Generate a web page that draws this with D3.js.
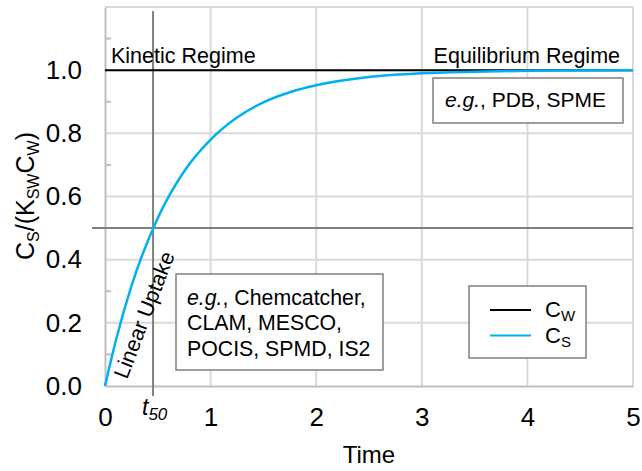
<!DOCTYPE html>
<html>
<head>
<meta charset="utf-8">
<script src="https://cdn.jsdelivr.net/npm/d3@7/dist/d3.min.js"></script>
<style>
  body { margin: 0; background: #fff; }
  text { font-family: "Liberation Sans", Arial, sans-serif; fill: #000; }
</style>
</head>
<body>
<script>
// values
var timePoints = [0, 0.1, 0.25, 0.5, 0.75, 1, 1.25, 1.5, 1.75, 2, 2.5, 3, 3.5, 4, 4.5, 5];
var csValues   = [0, 0.14, 0.316, 0.532, 0.68, 0.78, 0.85, 0.898, 0.93, 0.952, 0.978, 0.99, 0.995, 0.998, 0.999, 1.0];
var cwValue = 1.0;
var t50 = 0.455;
var halfLevel = 0.5;
var xTicks = [0, 1, 2, 3, 4, 5];
var yTicks = [0, 0.2, 0.4, 0.6, 0.8, 1.0];
var yMinorTicks = [0.1, 0.3, 0.5, 0.7, 0.9, 1.1];

var margin = {top: 7, right: 9, bottom: 85, left: 105};
var width = 642 - margin.left - margin.right,
    height = 471 - margin.top - margin.bottom;

var svg = d3.select("body").append("svg")
    .attr("width", 642)
    .attr("height", 471);
var g = svg.append("g")
    .attr("transform", "translate(" + margin.left + "," + margin.top + ")");

var x = d3.scaleLinear().domain([0, 5]).range([0, width]);
var y = d3.scaleLinear().domain([0, 1.2]).range([height, 0]);

var blue = "#00b0f0", gridColor = "#d9d9d9", axisColor = "#bfbfbf", darkGray = "#808080";

// grid
g.append("g").selectAll("line")
    .data(xTicks.slice(1))
    .enter().append("line")
    .attr("x1", x).attr("x2", x)
    .attr("y1", 0).attr("y2", height)
    .attr("stroke", gridColor).attr("stroke-width", 2);
g.append("g").selectAll("line")
    .data(yTicks.slice(1).concat([1.2]))
    .enter().append("line")
    .attr("x1", 0).attr("x2", width)
    .attr("y1", y).attr("y2", y)
    .attr("stroke", gridColor).attr("stroke-width", 2);

// axes
var yAxis = g.append("g")
    .call(d3.axisLeft(y).tickValues(yTicks).tickFormat(d3.format(".1f")).tickSize(0).tickPadding(23));
yAxis.select(".domain").attr("stroke", axisColor).attr("stroke-width", 2);
yAxis.selectAll("text").attr("font-size", 26);

var xAxis = g.append("g")
    .attr("transform", "translate(0," + height + ")")
    .call(d3.axisBottom(x).tickValues(xTicks).tickFormat(d3.format("d")).tickSize(0).tickPadding(22));
xAxis.select(".domain").attr("stroke", axisColor).attr("stroke-width", 2);
xAxis.selectAll("text").attr("font-size", 26);

// minor ticks inside left axis
g.append("g").selectAll("line")
    .data(yMinorTicks)
    .enter().append("line")
    .attr("x1", 0).attr("x2", 6)
    .attr("y1", y).attr("y2", y)
    .attr("stroke", axisColor).attr("stroke-width", 2);

// t50 and half level reference lines
g.append("line")
    .attr("x1", x(t50)).attr("x2", x(t50))
    .attr("y1", 4).attr("y2", height + 10)
    .attr("stroke", darkGray).attr("stroke-width", 2);
g.append("line")
    .attr("x1", -13).attr("x2", width)
    .attr("y1", y(halfLevel)).attr("y2", y(halfLevel))
    .attr("stroke", darkGray).attr("stroke-width", 2);

// C_W
g.append("line")
    .attr("x1", 0).attr("x2", width)
    .attr("y1", y(cwValue)).attr("y2", y(cwValue))
    .attr("stroke", "#000").attr("stroke-width", 2);

// C_S curve
var line = d3.line()
    .x(function(d) { return x(d[0]); })
    .y(function(d) { return y(d[1]); })
    .curve(d3.curveMonotoneX);
g.append("path")
    .datum(d3.zip(timePoints, csValues))
    .attr("fill", "none")
    .attr("stroke", blue)
    .attr("stroke-width", 2.5)
    .attr("d", line);

// regime labels
svg.append("text").attr("x", 111).attr("y", 63).attr("font-size", 21.5).text("Kinetic Regime");
svg.append("text").attr("x", 620).attr("y", 63).attr("font-size", 21.5).attr("text-anchor", "end").text("Equilibrium Regime");

// Linear Uptake
svg.append("text")
    .attr("transform", "translate(127,380) rotate(-69)")
    .attr("font-size", 21.5)
    .text("Linear Uptake");

// example boxes
svg.append("rect").attr("x", 433).attr("y", 78).attr("width", 190).attr("height", 45)
    .attr("fill", "#fff").attr("stroke", darkGray).attr("stroke-width", 1.5);
var t1 = svg.append("text").attr("x", 445).attr("y", 107).attr("font-size", 21);
t1.append("tspan").attr("font-style", "italic").text("e.g.");
t1.append("tspan").text(", PDB, SPME");

svg.append("rect").attr("x", 176).attr("y", 274).attr("width", 207).attr("height", 96)
    .attr("fill", "#fff").attr("stroke", darkGray).attr("stroke-width", 1.5);
var t2 = svg.append("text").attr("font-size", 21.3);
var l1 = t2.append("tspan").attr("x", 187).attr("y", 305);
l1.append("tspan").attr("font-style", "italic").text("e.g.");
l1.append("tspan").text(", Chemcatcher,");
t2.append("tspan").attr("x", 187).attr("y", 330).text("CLAM, MESCO,");
t2.append("tspan").attr("x", 187).attr("y", 356).text("POCIS, SPMD, IS2");

// legend
svg.append("rect").attr("x", 469).attr("y", 286).attr("width", 117).attr("height", 72)
    .attr("fill", "#fff").attr("stroke", darkGray).attr("stroke-width", 1.5);
var legendItems = [["W", "#000"], ["S", blue]];
var leg = svg.selectAll(".leg").data(legendItems).enter().append("g")
    .attr("transform", function(d, i) { return "translate(0," + (310 + i * 25.5) + ")"; });
leg.append("line").attr("x1", 490).attr("x2", 531).attr("y1", 0).attr("y2", 0)
    .attr("stroke", function(d) { return d[1]; }).attr("stroke-width", 2);
var lt = leg.append("text").attr("x", 545).attr("y", 7).attr("font-size", 22);
lt.append("tspan").text("C");
lt.append("tspan").attr("font-size", 15).attr("dy", 4).text(function(d) { return d[0]; });

// t50 label
var tl = svg.append("text").attr("x", 142).attr("y", 415).attr("font-style", "italic").attr("font-size", 23);
tl.append("tspan").text("t");
tl.append("tspan").attr("font-size", 17).attr("dy", 5).text("50");

// axis titles
svg.append("text").attr("x", 369).attr("y", 463).attr("font-size", 24)
    .attr("text-anchor", "middle").text("Time");

var yt = svg.append("text")
    .attr("transform", "translate(34,196) rotate(-90)")
    .attr("text-anchor", "middle").attr("font-size", 25);
yt.append("tspan").text("C");
yt.append("tspan").attr("font-size", 16).attr("dy", 5).text("S");
yt.append("tspan").attr("dy", -5).text("/(K");
yt.append("tspan").attr("font-size", 16).attr("dy", 5).text("SW");
yt.append("tspan").attr("dy", -5).text("C");
yt.append("tspan").attr("font-size", 16).attr("dy", 5).text("W");
yt.append("tspan").attr("dy", -5).text(")");
</script>
</body>
</html>
